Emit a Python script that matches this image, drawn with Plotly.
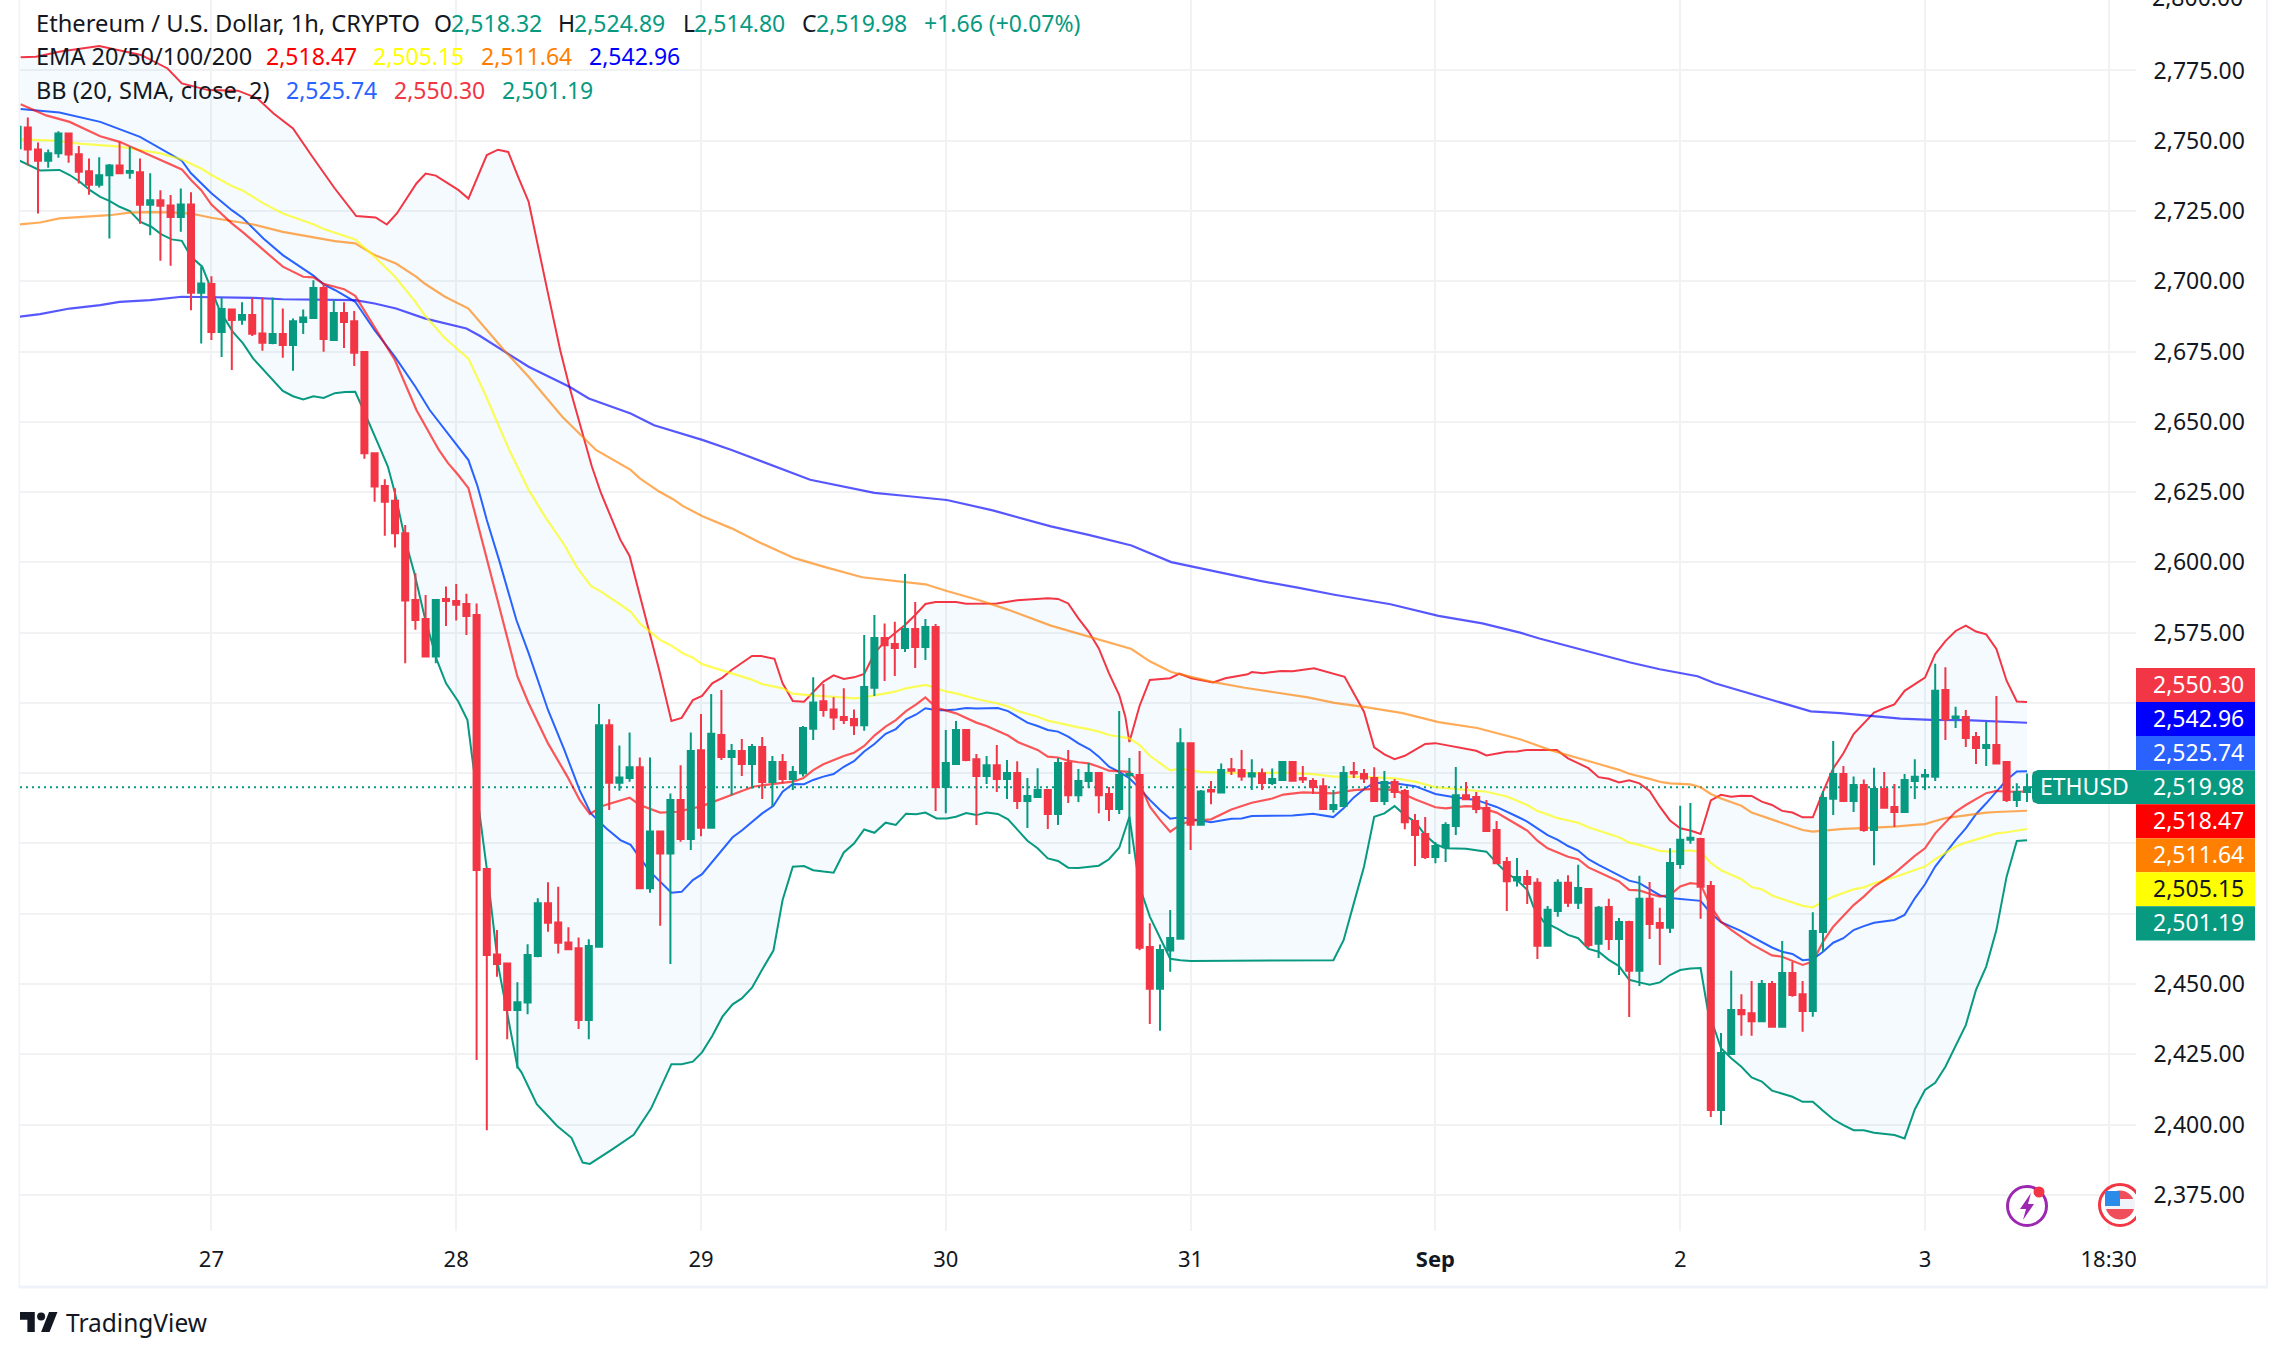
import plotly.graph_objects as go

W, H = 2286, 1357

# ---------- data ----------
hours = list(range(-19, 179))
open_ = [2747.3,2754.7,2746.9,2742.9,2745.5,2752.6,2745.2,2739.1,2734.3,2737.7,
 2741.2,2738.6,2738.8,2727.2,2728.8,2727.0,2722.9,2727.3,2695.9,2699.0,
 2682.0,2690.0,2686.3,2688.0,2681.4,2678.0,2681.2,2677.3,2685.5,2686.9,
 2697.6,2679.1,2688.7,2685.8,2674.8,2638.8,2627.2,2621.9,2610.4,2586.6,
 2579.9,2566.5,2587.0,2586.3,2585.2,2581.3,2490.9,2460.5,2457.3,2440.8,
 2443.4,2460.0,2478.7,2471.9,2464.8,2462.7,2437.2,2463.3,2542.1,2521.6,
 2523.3,2527.1,2484.1,2504.3,2496.4,2515.5,2501.6,2533.2,2505.6,2538.6,
 2530.8,2532.9,2528.3,2534.3,2521.9,2529.0,2522.9,2525.0,2540.8,2550.6,
 2547.7,2545.0,2544.3,2542.1,2555.4,2573.1,2571.0,2569.5,2576.3,2569.9,
 2577.0,2520.1,2528.3,2540.4,2530.0,2524.0,2527.8,2522.9,2525.1,2515.1,
 2516.5,2519.0,2510.5,2528.6,2517.2,2522.2,2525.1,2517.6,2512.3,2524.3,
 2524.4,2463.2,2448.3,2461.9,2466.1,2535.7,2506.7,2519.0,2518.1,2526.4,
 2526.1,2523.8,2525.0,2521.5,2522.6,2529.0,2523.3,2522.2,2520.4,2512.3,
 2513.3,2525.4,2524.7,2523.3,2515.1,2521.9,2518.7,2508.0,2503.4,2495.2,
 2498.7,2506.2,2517.2,2516.5,2512.6,2504.8,2493.4,2486.8,2488.1,2486.0,
 2463.6,2476.0,2486.0,2478.9,2483.8,2464.3,2477.4,2466.0,2472.1,2454.7,
 2480.3,2471.7,2470.0,2492.7,2501.3,2501.6,2484.9,2405.2,2425.1,2440.8,
 2439.6,2436.8,2450.0,2434.8,2453.9,2446.4,2440.4,2468.5,2515.9,2524.7,
 2515.1,2520.8,2504.8,2519.4,2513.0,2511.2,2522.2,2523.8,2523.7,2554.6,
 2544.6,2545.0,2537.9,2534.0,2535.0,2529.0,2515.5,2518.32]
high = [2756.0,2758.3,2749.4,2746.9,2753.4,2752.6,2748.1,2743.7,2744.1,2741.7,
 2749.6,2747.9,2743.7,2738.4,2732.4,2730.7,2733.0,2731.7,2705.2,2701.8,
 2694.1,2690.1,2692.5,2694.1,2694.2,2694.2,2690.3,2686.8,2690.0,2700.4,
 2699.0,2693.3,2692.5,2689.4,2675.0,2639.0,2629.6,2626.4,2613.3,2596.1,
 2588.4,2586.6,2591.4,2592.3,2588.8,2585.4,2491.0,2469.2,2457.7,2450.6,
 2464.2,2480.5,2486.2,2484.6,2470.2,2466.6,2465.9,2549.6,2544.2,2534.9,
 2539.5,2530.6,2530.6,2504.3,2517.8,2527.8,2539.5,2546.1,2553.2,2554.6,
 2535.4,2537.2,2535.4,2537.9,2531.1,2531.8,2527.6,2541.8,2559.1,2556.7,
 2552.0,2555.2,2547.7,2574.2,2581.3,2578.3,2578.9,2595.9,2585.9,2579.9,
 2578.1,2540.4,2543.6,2540.4,2531.8,2531.1,2535.0,2529.7,2529.3,2523.3,
 2526.8,2519.4,2530.4,2533.3,2526.5,2528.6,2525.4,2520.1,2547.1,2530.4,
 2532.9,2471.6,2464.1,2476.3,2541.0,2535.7,2519.0,2522.2,2528.5,2530.4,
 2533.3,2530.0,2526.7,2526.7,2529.3,2529.0,2527.6,2523.2,2523.2,2519.0,
 2527.6,2529.0,2526.5,2527.1,2525.8,2522.9,2519.4,2510.5,2509.4,2500.5,
 2507.6,2527.2,2521.9,2518.3,2515.5,2508.0,2495.2,2494.8,2490.6,2487.6,
 2477.8,2487.3,2488.7,2492.4,2484.2,2477.8,2480.3,2473.5,2472.5,2488.5,
 2486.3,2477.1,2498.3,2513.4,2514.4,2502.0,2486.7,2432.6,2454.7,2446.4,
 2451.1,2451.4,2451.1,2465.3,2457.9,2451.1,2475.5,2518.7,2536.5,2527.6,
 2523.8,2522.8,2526.9,2525.4,2521.2,2524.7,2530.0,2526.5,2563.9,2562.7,
 2548.6,2547.5,2539.7,2543.2,2552.5,2529.2,2521.4,2524.89]
low = [2746.0,2741.3,2724.1,2740.4,2743.9,2742.2,2734.8,2730.8,2733.4,2715.2,
 2738.1,2736.5,2720.5,2716.4,2707.3,2705.5,2717.6,2689.7,2677.9,2679.1,
 2673.1,2668.4,2684.5,2680.5,2675.3,2677.6,2672.8,2668.2,2681.2,2686.9,
 2674.9,2679.1,2676.3,2669.9,2636.9,2621.6,2609.5,2605.3,2564.1,2576.0,
 2566.2,2564.1,2577.4,2579.3,2574.2,2423.0,2398.0,2452.6,2430.4,2420.0,
 2439.3,2459.5,2468.6,2460.9,2462.4,2434.0,2430.4,2463.0,2511.9,2518.8,
 2522.0,2483.8,2482.5,2470.7,2457.1,2500.6,2497.7,2502.6,2505.6,2529.7,
 2517.2,2524.0,2519.6,2515.8,2513.3,2521.4,2519.0,2523.8,2536.8,2545.1,
 2540.4,2542.5,2538.6,2540.1,2552.5,2557.8,2559.6,2568.1,2562.4,2565.3,
 2511.6,2510.8,2528.3,2529.3,2506.6,2521.2,2518.3,2515.8,2512.3,2505.5,
 2516.7,2505.2,2506.6,2514.4,2514.8,2519.7,2510.8,2508.0,2510.5,2496.3,
 2462.0,2435.8,2433.4,2454.4,2465.9,2497.7,2506.7,2514.0,2517.8,2524.4,
 2522.3,2519.0,2519.0,2520.8,2522.6,2522.3,2521.5,2517.6,2512.3,2511.0,
 2513.1,2523.3,2521.5,2515.1,2513.7,2516.2,2505.1,2492.0,2494.5,2493.0,
 2493.4,2503.0,2515.5,2510.8,2504.4,2493.0,2476.0,2484.7,2478.5,2458.9,
 2463.6,2473.9,2477.4,2476.7,2462.9,2459.3,2462.1,2453.2,2438.3,2449.3,
 2466.0,2456.8,2468.2,2491.0,2499.9,2473.2,2402.7,2399.9,2424.8,2431.6,
 2431.6,2436.8,2434.8,2434.8,2445.5,2433.0,2438.4,2461.5,2510.1,2515.1,
 2511.2,2504.2,2492.3,2512.7,2505.9,2511.2,2515.8,2519.0,2522.2,2536.8,
 2541.1,2534.3,2528.3,2527.6,2528.3,2514.8,2513.0,2514.80]
close = [2755.0,2746.9,2742.9,2745.5,2752.6,2745.1,2739.0,2734.3,2737.7,2741.2,
 2738.4,2739.2,2727.2,2728.8,2726.9,2722.9,2727.3,2695.9,2699.2,2682.0,
 2690.1,2686.2,2688.0,2681.3,2678.1,2681.2,2677.3,2685.8,2687.1,2697.6,
 2679.5,2688.7,2685.5,2674.6,2638.8,2627.0,2621.6,2610.4,2586.4,2579.5,
 2566.5,2586.6,2586.3,2584.9,2580.9,2490.6,2460.3,2457.1,2440.8,2443.5,
 2460.3,2478.7,2471.8,2464.7,2462.4,2437.2,2463.5,2542.1,2521.6,2523.5,
 2527.1,2484.1,2504.3,2496.4,2515.5,2501.6,2532.9,2505.6,2539.0,2530.8,
 2532.9,2528.3,2534.3,2521.9,2529.0,2522.9,2525.4,2541.1,2550.2,2547.5,
 2544.8,2543.9,2542.1,2555.7,2573.1,2570.5,2569.5,2576.3,2569.9,2577.0,
 2520.1,2528.6,2540.4,2529.7,2524.0,2527.8,2522.9,2525.1,2515.1,2516.9,
 2519.0,2510.5,2528.6,2517.2,2522.2,2525.1,2517.2,2512.3,2524.4,2524.7,
 2462.9,2448.3,2462.1,2466.4,2535.7,2506.7,2518.5,2518.5,2526.1,2525.9,
 2523.8,2525.0,2521.5,2522.9,2529.0,2522.3,2522.8,2520.1,2512.3,2513.7,
 2525.1,2524.9,2523.1,2515.1,2521.9,2518.3,2507.6,2503.0,2495.2,2499.1,
 2506.6,2517.2,2515.7,2512.3,2504.4,2493.0,2486.6,2488.1,2485.6,2463.6,
 2476.4,2486.0,2478.9,2484.2,2463.9,2477.1,2466.0,2472.1,2454.7,2480.3,
 2471.4,2470.0,2493.1,2501.3,2502.0,2484.6,2405.2,2425.5,2440.8,2439.3,
 2436.8,2450.0,2434.8,2453.9,2446.1,2440.4,2468.9,2516.2,2524.7,2515.1,
 2520.8,2504.8,2519.4,2512.7,2511.2,2522.6,2523.7,2524.4,2554.3,2544.2,
 2545.2,2537.5,2534.0,2535.0,2528.5,2515.5,2518.3,2519.98]

bb_upper_h = [-18.7,-17.2,-14.8,-12.4,-11,-6.9,-4.3,-2.9,-0.3,2.6,4.5,6.1,8,9.9,12.1,14.2,16.1,17.2,18.2,20.1,21,22,24.2,25.2,27,28.1,29.1,30,31.1,33,34.2,35.1,36.8,37.3,38.2,40.1,41,43,43.9,45.1,46.1,47.2,48.1,49.1,50.1,51,53,53.9,55.2,56,57,58.1,59,60,61,62,63,64,65,66,67,68,69,70,71,73,74,76,77,79,81,82,83,84,85,86,87,88,89,89.6,90,91,92,93,94,94.9,96.1,98.2,99.4,101.6,102,103.1,104.9,106,108.1,111.1,112,113,114,115,116,117,118,119,120,121,122,123,124,125,126,127,128,129,131.9,133,135,136,137,138,139,140,141,142,143,144,145,146,147,148,149,150,151,152,153,154,155,156,157,158,159,160,161,162,163,164,165,166,167,168,169,170,171,172,173,174,175,176,177,178]
bb_upper = [2779.7,2779.9,2781.7,2782.9,2783.7,2780.5,2775.7,2770.4,2768,2767.8,2765.1,2759.7,2754.4,2744.3,2733,2723.2,2722.7,2720.2,2724.2,2734.8,2738.3,2737.6,2732.5,2729.4,2744.9,2746.8,2746,2737.8,2728.3,2695.7,2675.5,2662.5,2640,2634.1,2624.6,2608,2602.3,2574.8,2561.7,2543.6,2544.7,2551,2552.5,2557,2559,2561.7,2566.7,2566.7,2565.7,2557,2550.7,2550.4,2553.8,2557.6,2559.8,2558.5,2559.1,2560.3,2567.6,2571.8,2574.8,2577.7,2581.3,2585.2,2585.9,2585.9,2585.3,2585.4,2585.4,2586.5,2586.9,2587.2,2587,2585.4,2580.1,2575.4,2569.4,2560.5,2552.8,2545.1,2536.1,2549,2558.2,2558.6,2558.8,2560.4,2558.8,2557.3,2558.8,2560.2,2561,2560.6,2561.4,2561.3,2562.3,2559.3,2553.4,2546.9,2534.2,2531.7,2530,2531.2,2533.3,2535.4,2535.7,2535,2534.3,2533.8,2533,2531.3,2532,2532.6,2532.7,2533.3,2533.3,2530.3,2526.8,2523.6,2523,2521.7,2522.5,2521.4,2518.7,2513.1,2508.2,2505.4,2504.6,2503.4,2515.3,2517.3,2516.6,2517,2516.9,2514.9,2513.7,2511.6,2511,2509.3,2509.3,2518.4,2526.7,2532.1,2538.9,2542.7,2546.6,2548.1,2549.5,2554.3,2556.6,2559,2567.4,2572,2575.6,2577.5,2575.4,2574.4,2569.2,2557.9,2550.5,2550.3]

bb_lower_h = [-18.8,-17.8,-16.8,-14.9,-13.9,-12.9,-11.9,-10.9,-10,-9,-8,-7,-5.9,-4.9,-3.9,-2.9,-2,-0.9,0.8,2.1,3.1,4.1,5.1,6,7,8,9,10,11,12.1,13.1,14.1,14.7,16.6,17.3,18,19,19.9,20.9,22.1,23,24.2,25.1,25.6,26.3,27,28.1,29.1,30,30.4,31.9,33.9,35.3,36.4,37.1,39.3,41.4,43.1,45.1,46.1,47.2,48.1,49.1,50.1,51.1,52,53,54,55.1,56,57,58.1,59,60,61,62,63,64,65,66.1,67.1,68.1,69.1,70,71.1,72.1,73,74,75,76,77.1,78.1,79.1,80,81,82,83,84,85,87,88,89,90,91,92,93,94,95,96,110,111,112,113,114,115,116,117,118,119,120,121,123,125,126,127,128,129,129.6,130.6,132,133,134,135,136,137,138,139,140,141,142,143,144,145,146,146.7,147.5,148,149,150,151,152,153,154,155,156,157,158,159,160,161,162,163,165,166,167,168,169,170,172,173,174,175,176,177,178]
bb_lower = [2742.9,2741.1,2739.4,2739.6,2737.8,2735.4,2732.4,2730,2728.6,2726.5,2725,2721.2,2719.4,2716.7,2714.9,2714.4,2708.7,2705.2,2689.7,2682,2677.9,2672.5,2668.4,2664.8,2661,2659.1,2658,2659.1,2658.5,2660.2,2660.6,2660.7,2655.9,2640,2634.1,2624.6,2608,2596.1,2580.7,2565.3,2557,2550.5,2543.9,2529.7,2509.5,2491,2456.8,2437.2,2420.6,2418.6,2407.3,2399.5,2395.3,2386.5,2386,2391.2,2396.4,2405.7,2421.5,2421.5,2422.4,2425.7,2431.5,2438.4,2442.8,2444.9,2448.7,2455.2,2461.9,2479.9,2491.7,2492,2490.5,2490,2489.6,2496.8,2500,2505,2503.8,2507.4,2506.6,2510.6,2510.4,2511,2508.9,2508.9,2509.5,2510.8,2510.1,2511,2510.5,2508.6,2504.4,2501,2498.3,2494.7,2493.8,2491.4,2491.3,2492.1,2494.4,2498.5,2509.5,2484.6,2474,2466.2,2459,2458.5,2458.2,2458.5,2465.6,2478.7,2491.7,2509.5,2510.7,2513.3,2510.1,2507.7,2503,2499.8,2498.3,2498.1,2497.1,2493.1,2489.5,2487,2483.5,2477.6,2472.2,2469.6,2467.5,2466.3,2462.5,2461.5,2458.6,2456.4,2451.5,2450.6,2449.8,2450.6,2453.2,2455,2455.5,2455.7,2440.8,2432.5,2427.2,2423.6,2420.6,2416.8,2415.3,2412.1,2411.1,2409.9,2408.1,2408.1,2404.9,2401.9,2399.8,2398,2398,2397.1,2396.3,2395.1,2405.4,2412.3,2414.9,2420.6,2435.4,2447.9,2456.2,2469.2,2488.2,2500.9,2501.19]

bb_basis_h = [-18.7,-14.9,-10.9,-7,-2.9,-2,0,2,3.1,5.1,7,9,10,11,12.1,14.1,16,18,20,21.4,24.4,25.2,26.1,27,28.2,29.9,31.1,33,34.6,36.1,37.2,38.7,40.1,41.1,43,45.1,46.1,47.2,48.1,49.1,50.1,51.1,52,53,54,55.1,56,57,58.1,59,60,61,62,63,64,65,66.1,67.1,68.1,69.1,70,71.1,72.1,73,74,75,77.1,78.1,79.1,80,81,82,83,84,85,86.1,87,88,89,90,91,92,93,94,95,96,98,100,101,102,104,106,108,110,111,112,113,114,116,118,120,122,124,125,126,128,129,130,131,132,133,134,135,136,138,139,140,141,142,143,144,146,147,148,150,151,152,153,154,155,156,157,158,159,160,161,162,163,165,166,167,168,169,170,171,172,173,174,175,176,177,178]
bb_basis = [2761.3,2760,2756.7,2751.4,2742.9,2738.4,2731.3,2725.3,2722.4,2715.2,2709.3,2704.6,2702,2698.9,2696.9,2692.7,2682.6,2673.1,2662.5,2654.2,2640,2636.4,2627,2615.1,2600.9,2579.5,2567.7,2547.5,2533.3,2519,2510.7,2505.4,2501.2,2499.5,2490,2482.5,2482.8,2487,2489.1,2493.5,2497.9,2502.2,2504.6,2507.7,2510.7,2513.4,2518.4,2521.2,2521.1,2522.6,2523.8,2524.7,2527.3,2529.3,2532.7,2535.4,2539,2540.7,2544.2,2545.9,2548.1,2547.4,2547.4,2547.7,2548.2,2548,2548.2,2547.1,2544.9,2543,2541.8,2540.4,2539.8,2538,2535.6,2533.5,2530.9,2527.3,2525.5,2523.2,2519.6,2515.5,2511.9,2508.8,2509.3,2508.7,2507.6,2508.8,2508.9,2509.8,2509.8,2510,2510.6,2509.4,2512.5,2516.4,2519.3,2521.6,2521.4,2520.4,2517.6,2516.4,2515.5,2514.3,2513,2509.6,2507.8,2505.4,2503,2501.3,2499.1,2497.5,2494.4,2492.4,2488.8,2486.8,2485.9,2483.7,2481.6,2480.6,2480.2,2479.6,2475.2,2472,2468.8,2466.9,2465.1,2463,2461.5,2460.7,2458.5,2458.8,2461.5,2464.7,2466.3,2469.2,2470.6,2471.8,2472.8,2474.6,2480.5,2485.5,2491.8,2496.5,2501.2,2505.4,2510.4,2514.3,2518.4,2522.6,2525.6,2525.74]

ema20_h = [-18.7,-16.2,-13.9,-11.9,-10.9,-9,-7,-5,-2.9,-2,-1,0,1,2,3.1,5.1,7,9,10,11,13,14.1,16,18,20.1,22.3,23.2,24.2,25.2,26.1,27,28.2,29.2,30,31.1,33,34.9,36.1,37.1,38.4,41,42,44,45.7,48.1,49.5,51.1,52.2,53.1,55.1,57,58,59,60,61,62,63,64,65,66.1,67.1,68.1,69.1,70,71.1,72.1,73,75,76,78.1,79.1,81,82,83,84,85,86,87,88,90,91,92,93,94,95,96,98,100,102,104,105.1,107,109,110,112,114,116,118,120,121,123,124,126,128,129,130,131,133,134,135,137,138,139,140,141,142,143,144,145,146,147,148,149,151,153,154,156,157,158,159,161,162,163,165,167,168,169,171,172,174,175,176,178]
ema20 = [2763,2759,2756.7,2753.2,2751.6,2749.6,2746.4,2743.1,2739.8,2736,2732.4,2727.3,2723.9,2720.6,2717.4,2711.1,2705.2,2701.6,2701.4,2699.1,2697.2,2694.8,2683.8,2671.9,2654.2,2640,2635.3,2631.1,2626.4,2613.9,2600.9,2584.3,2570,2559.4,2549.9,2535.6,2523.8,2515.5,2510.5,2513.4,2516.3,2513.7,2511,2511.3,2513.3,2515.2,2517.5,2518.8,2520.2,2521.2,2522,2523.2,2526.1,2528.2,2529.7,2531.1,2532.3,2534.7,2538.4,2541.6,2543.9,2547.1,2549.5,2552,2548.3,2547.1,2546.3,2543,2541.8,2538.4,2536,2533.3,2530.9,2530.6,2529.5,2528.9,2528.5,2527.3,2525.9,2525.5,2521.4,2513.1,2508.4,2504.2,2506.7,2508.1,2508.6,2512.1,2514.5,2516,2517.4,2518.2,2517.8,2517.8,2519,2519.4,2519,2515.7,2512.9,2512.5,2513.3,2513.1,2511,2506.6,2504.6,2501,2498.3,2495.3,2494.4,2491.5,2488,2486.5,2483.5,2483.3,2482.1,2481.1,2481.7,2484.7,2485.9,2485.5,2477.6,2472.2,2469.3,2464.2,2460.2,2459.7,2456.8,2458,2465,2470.4,2478.1,2481.1,2484.6,2489.4,2495.6,2498.3,2503.6,2511.3,2513.7,2517.9,2518.7,2518.4,2518.47]

ema50_h = [-18.8,-15.5,-12.9,-9,-7,-5,-2.9,-1,0,2,3.1,5.1,7,9,10,11,13,14.1,16,18,20,20.9,22.9,25.2,26.8,29.2,31.1,32.7,34.6,35.8,37.2,38.2,41.1,42,44,45.1,46.2,47.2,48.1,50.2,52.9,54,56,57,59,61,63,64,67,68.1,70,71.1,72.1,73,75,77,78.1,79.1,81,82,83,84,85,86,87,88,90,91,92,94,95,97,99,102,105,108,110,112,114,116,118,120,122,125,127,129,130,132,134,135,138,139,140,142,143,145,146,147,148,150,151,152,153,156,157,158,159,161,162,163,165,167,168,169,171,172,174,175,176,178]
ema50 = [2750.5,2750,2749,2747.9,2746.7,2745.5,2743.3,2740.1,2737.8,2733.9,2732.2,2727.7,2724.1,2721.4,2720.3,2718.6,2716.1,2714.9,2708.7,2701.6,2692.7,2688,2679.7,2672.5,2660.1,2640,2625.8,2616.3,2606.2,2598.5,2591.6,2589.6,2582.5,2578.3,2572.4,2570.4,2567.7,2566.1,2563.8,2561.5,2558.4,2556.7,2555.2,2553.3,2552.6,2552.2,2551.6,2552,2554,2555.2,2556.4,2555.2,2554,2553.4,2551.4,2549.9,2548.7,2547.1,2545.1,2543.7,2543,2542.1,2541.3,2540.7,2539.8,2538.6,2537.4,2535,2531.2,2526,2526.6,2525.5,2525.2,2525,2525.2,2524.7,2523.8,2523.8,2523.5,2523.2,2522,2520,2519.4,2518.4,2516.7,2513.7,2511.6,2509,2507.4,2505.8,2502.2,2500.3,2499.5,2497.4,2497.1,2497.5,2497.1,2493.1,2490.5,2487.3,2484.5,2483.7,2481.5,2477.8,2477.3,2479.3,2481.1,2483.7,2484.4,2485.8,2488,2490.6,2491.8,2494.4,2498.9,2500.3,2502.4,2503.6,2504,2505.15]

ema100_h = [-18.8,-16.8,-14.9,-12.9,-10,-8,-6,-4.1,-2,0,2,4.1,7,9,10,12.1,14.1,16,18.1,20.1,20.9,22.9,25.2,26.3,28.7,31.1,34.4,37.7,41.1,42,43.9,45.3,46.2,48.2,51,53.8,57.1,60,63.8,70,72.1,75.2,78,82.3,86.1,90.2,92,94.1,98,101.3,104.2,107.5,110.1,113,116.8,120.3,124.1,128.3,131.2,134.2,136,138,139,141,142.2,143,145,146,147,148,150,151,154,156,157,158,160,162,165,167,168,169,170,172,174,175,178]
ema100 = [2720.2,2720.9,2722.4,2722.9,2723.5,2724.4,2724.6,2724.5,2724.1,2722.6,2721.4,2720.2,2717.6,2716.3,2715.8,2714.3,2713.5,2709.3,2706.3,2701.6,2699.2,2694.5,2690.3,2685.6,2675.5,2666,2651.8,2640,2632.9,2629.9,2625.2,2622.4,2620.1,2616.3,2612.1,2607,2601.6,2598.5,2594.7,2592.2,2589.8,2586.6,2583.3,2577.5,2573.5,2569.2,2564.8,2561,2557.6,2555.4,2553.8,2552,2550,2548.6,2546.4,2543.2,2541.1,2537.1,2533.3,2530.3,2528.3,2526.2,2524.8,2523,2521.8,2521.4,2521,2520,2517.6,2516,2513.4,2511,2507.2,2504.8,2504.2,2504.6,2505.2,2505.5,2506,2506.6,2506.9,2508,2509,2510,2511,2511.2,2511.64]

ema200_h = [-18.8,-16.8,-13.9,-10.9,-9,-6,-2.9,-1,1.1,4.1,7,10,14.1,16,18.1,20.9,22.9,25,26.3,31.1,35.1,37,41.1,43.4,48.2,51,58.7,65,67.9,72.1,76.6,82.3,86.1,90.2,94.1,98,102.7,106.5,110.1,115.6,120.3,124.6,128.3,130.2,134.2,139.1,142,145.7,147.4,151.4,154.8,156.8,159.7,162.7,165.6,168.6,172,178]
ema200 = [2687.4,2688.3,2690.3,2691.5,2692.7,2693.3,2694.5,2694.4,2694.2,2694.1,2693.6,2693.5,2693.3,2692.1,2690.3,2686.8,2685,2683.2,2680.6,2669.6,2662.5,2658.3,2653,2648.8,2643.5,2640,2629.4,2624.7,2623.7,2622.2,2618.5,2612.8,2609.7,2606,2600.1,2597,2593.5,2591,2588.5,2585.1,2581,2578.3,2575,2572.9,2569.1,2564.4,2562,2559.5,2557,2552.7,2549.2,2547,2546.4,2545.4,2544.4,2544,2543.9,2542.96]

last_price = 2519.98
y_ticks = [2375, 2400, 2425, 2450, 2475, 2500, 2525, 2550, 2575, 2600, 2625, 2650, 2675, 2700, 2725, 2750, 2775]
y_labels = ["2,375.00", "2,400.00", "2,425.00", "2,450.00", "", "", "", "", "2,575.00", "2,600.00", "2,625.00",
            "2,650.00", "2,675.00", "2,700.00", "2,725.00", "2,750.00", "2,775.00"]
top_tick_label = "2,800.00"
x_ticks = [0, 24, 48, 72, 96, 120, 144, 168, 186]
x_labels = ["27", "28", "29", "30", "31", "<b>Sep</b>", "2", "3", "18:30"]

title_text = "Ethereum / U.S. Dollar, 1h, CRYPTO"
ohlc_letters = ["O", "H", "L", "C"]
ohlc_values = ["2,518.32", "2,524.89", "2,514.80", "2,519.98"]
change_text = "+1.66 (+0.07%)"
ema_text = "EMA 20/50/100/200"
ema_values = ["2,518.47", "2,505.15", "2,511.64", "2,542.96"]
bb_text = "BB (20, SMA, close, 2)"
bb_values = ["2,525.74", "2,550.30", "2,501.19"]
tag_values = ["2,550.30", "2,542.96", "2,525.74", "2,519.98", "2,518.47", "2,511.64", "2,505.15", "2,501.19"]

# ---------- style ----------
FONT = "Noto Sans"
INK = "#131722"
UP, DOWN = "#089981", "#F23645"
GRID = "#F1F2F4"
FS = 23

left_px, right_px, bottom_px = 20, 2136, 1231
px_per_hour, hour0_px = 10.2, 211.4
x_min = (left_px - hour0_px) / px_per_hour
x_max = (right_px - hour0_px) / px_per_hour
y_min, y_max = 2362.15, 2800.06

def X(p): return p / W
def Y(p): return 1 - p / H

fig = go.Figure()

fig.add_trace(go.Scatter(x=bb_upper_h + bb_lower_h[::-1], y=bb_upper + bb_lower[::-1],
                         fill="toself", fillcolor="rgba(33,150,243,0.05)",
                         mode="none", showlegend=False, hoverinfo="skip"))
fig.add_trace(go.Scatter(x=[x_min, x_max], y=[last_price, last_price], mode="lines",
                         line=dict(color=UP, width=2, dash="2px,4px"), hoverinfo="skip"))
for xs, ys, col, wd in [
    (bb_basis_h, bb_basis, "#2962FF", 2.0),
    (bb_upper_h, bb_upper, "#F23645", 2.0),
    (bb_lower_h, bb_lower, "#089981", 2.0),
    (ema200_h, ema200, "rgba(0,0,255,0.66)", 2.2),
    (ema100_h, ema100, "rgba(255,127,0,0.66)", 2.2),
    (ema50_h, ema50, "rgba(255,255,0,0.66)", 2.2),
    (ema20_h, ema20, "rgba(255,0,0,0.66)", 2.2),
]:
    fig.add_trace(go.Scatter(x=xs, y=ys, mode="lines", line=dict(color=col, width=wd),
                             hoverinfo="skip"))

fig.add_trace(go.Candlestick(x=hours, open=open_, high=high, low=low, close=close,
                             xaxis="x2", yaxis="y2", whiskerwidth=0,
                             increasing=dict(line=dict(color=UP, width=2), fillcolor=UP),
                             decreasing=dict(line=dict(color=DOWN, width=2), fillcolor=DOWN),
                             hoverinfo="skip"))

annotations = []
def text(x, y, s, color=INK, size=FS, anchor="left", family=FONT):
    annotations.append(dict(x=X(x), y=Y(y), xref="paper", yref="paper", text=s, showarrow=False,
                            xanchor=anchor, yanchor="middle", align=anchor,
                            font=dict(family=family, size=size, color=color),
                            borderpad=0, borderwidth=0))

# Legend rows
LS = 23.7
text(36, 23, title_text, INK, LS)
for xl, xv, l, v in zip([434, 558, 683, 802], [451, 574, 694, 816], ohlc_letters, ohlc_values):
    text(xl, 23, l)
    text(xv, 23, v, UP)
text(924, 23, change_text, UP)
text(36, 56, ema_text, INK, LS - 0.2)
for xv, v, c in zip([266, 373, 481, 589], ema_values, ["#FF0000", "#FFFF00", "#FF7F00", "#0000FF"]):
    text(xv, 56, v, c)
text(36, 90, bb_text, INK, LS - 0.2)
for xv, v, c in zip([286, 394, 502], bb_values, ["#2962FF", "#F23645", "#089981"]):
    text(xv, 90, v, c)

# Top tick label, cut by the page edge as in the reference
text(2152, -3, top_tick_label)

shapes = []
def rect(x0, y0, x1, y1, fill, layer="above"):
    shapes.append(dict(type="rect", xref="paper", yref="paper", x0=X(x0), x1=X(x1), y0=Y(y0), y1=Y(y1),
                       fillcolor=fill, line=dict(width=0), layer=layer))
def circle(cx, cy, r, fill="rgba(0,0,0,0)", line=None, lw=0):
    shapes.append(dict(type="circle", xref="paper", yref="paper", x0=X(cx - r), x1=X(cx + r),
                       y0=Y(cy - r), y1=Y(cy + r), fillcolor=fill,
                       line=dict(color=line or "rgba(0,0,0,0)", width=lw), layer="above"))
def poly(pts, fill):
    d = "M" + " L".join(f"{X(a):.5f},{Y(b):.5f}" for a, b in pts) + " Z"
    shapes.append(dict(type="path", xref="paper", yref="paper", path=d, fillcolor=fill,
                       line=dict(width=0), layer="above"))

# Frame
rect(18.5, 0, 20, 1287, "#F0F3FA", "below")
rect(2266, 0, 2268, 1287, "#F0F3FA", "below")
rect(18.5, 1285.5, 2268, 1288.5, "#F0F3FA", "below")

# Icons
circle(2027, 1206, 19.5, "#FFFFFF", "#9C27B0", 3)
poly([(2031, 1193), (2020, 1209), (2026, 1209), (2023, 1220), (2034, 1204), (2028, 1204)], "#9C27B0")
circle(2039, 1192, 5.5, "#F23645")
circle(2120, 1205, 20.5, "#FFFFFF", "#F23645", 3)
circle(2120, 1205, 14.5, "#F04E5A")
rect(2105, 1199, 2135, 1209, "#F0F3FA")
rect(2105, 1191, 2120, 1206, "#2A8BE8")
# Pane clip on the right edge of the pane
rect(2136, 1176, 2150, 1284, "#FFFFFF")

# Price tags
tag_colors = [DOWN, "#0000FF", "#2962FF", UP, "#FF0000", "#FF7F00", "#FFFF00", UP]
tag_top, tag_h = 668, 34.05
for i, (v, c) in enumerate(zip(tag_values, tag_colors)):
    rect(2136, tag_top + i * tag_h, 2255, tag_top + (i + 1) * tag_h, c)
    text(2198.5, tag_top + (i + 0.5) * tag_h - 1, v, "#131722" if c == "#FFFF00" else "#FFFFFF", FS, "center")
# ETHUSD tag
poly([(2038, 770), (2136, 770), (2136, 804), (2038, 804), (2033, 802), (2032, 798), (2032, 776), (2033, 772)], UP)
text(2084, 786, "ETHUSD", "#FFFFFF", FS, "center")

# TradingView logo
sx, sy = 38 / 36, 20 / 18
def lg(a, b): return (20 + a * sx, 1312 + (b - 4) * sy)
poly([lg(0, 4), lg(14, 4), lg(14, 22), lg(7, 22), lg(7, 11), lg(0, 11)], "#131722")
poly([lg(27.5, 4), lg(35.5, 4), lg(28, 22), lg(20, 22)], "#131722")
circle(20 + 20 * sx, 1312 + 4 * sy, 4, "#131722")
text(66, 1322, "TradingView", "#131722", 24.5)

fig.update_layout(
    width=W, height=H, autosize=False, margin=dict(l=0, r=0, t=0, b=0, pad=0),
    paper_bgcolor="#FFFFFF", plot_bgcolor="#FFFFFF", showlegend=False, hovermode=False,
    boxgap=0.41, boxgroupgap=0.0, boxmode="overlay",
    font=dict(family=FONT, size=FS, color=INK),
    shapes=shapes, annotations=annotations,
    xaxis=dict(domain=[X(left_px), X(right_px)], range=[x_min, x_max], tickmode="array",
               tickvals=x_ticks, ticktext=x_labels, showgrid=True, gridcolor=GRID, gridwidth=1.5,
               zeroline=False, showline=False, ticks="outside", ticklen=9, tickcolor="rgba(0,0,0,0)",
               tickfont=dict(family=FONT, size=22, color=INK)),
    yaxis=dict(domain=[Y(bottom_px), 1], range=[y_min, y_max], side="right", tickmode="array",
               tickvals=y_ticks, ticktext=y_labels, showgrid=True, gridcolor=GRID, gridwidth=2,
               zeroline=False, showline=False, ticks="outside", ticklen=12, tickcolor="rgba(0,0,0,0)",
               tickfont=dict(family=FONT, size=FS, color=INK)),
    xaxis2=dict(overlaying="x", anchor="y2", range=[x_min, x_max], visible=False,
                rangeslider=dict(visible=False)),
    yaxis2=dict(overlaying="y", anchor="x2", range=[y_min, y_max], visible=False, side="right"),
)

fig.write_html("out.html", config={"displayModeBar": False},
               post_script="document.body.style.margin='0';")
